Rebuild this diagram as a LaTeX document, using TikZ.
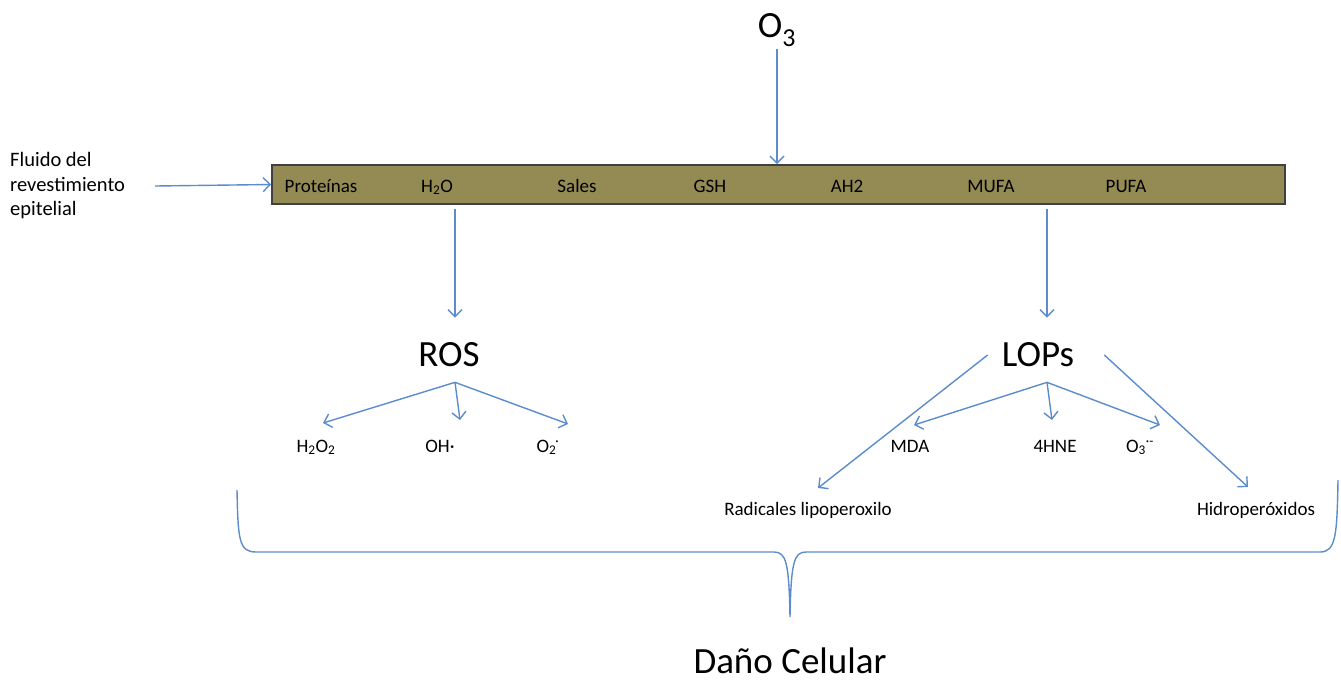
\documentclass[tikz,border=0pt]{standalone}
\usepackage{fontspec}
\setmainfont{Carlito}
\usetikzlibrary{arrows.meta}
\definecolor{arrowblue}{RGB}{91,140,205}
\definecolor{olivebar}{RGB}{148,138,84}
\begin{document}
\begin{tikzpicture}[x=1pt,y=-1pt,
  arr/.style={draw=arrowblue, line width=1.4pt, -{Straight Barb[length=7pt,width=14pt]}},
  lbl/.style={inner sep=0pt, font=\fontsize{19}{24}\selectfont},
  big/.style={inner sep=0pt, font=\fontsize{37}{44}\selectfont},
  barbox/.style={draw=black!75, line width=1.8pt, fill=olivebar, minimum width=1013pt, minimum height=39pt, inner sep=0pt},
  bracestyle/.style={draw=arrowblue, line width=1.4pt}]
\useasboundingbox (0,0) rectangle (1341,681);

% top
\node[big] (o3) at (777,30) {O\textsubscript{3}};
\node[barbox] (bar) at (778.5,184.5) {};
\node[lbl, anchor=base] (prot) at (321,192) {Proteínas};
\node[lbl, anchor=base] (h2o) at (437,192) {H\textsubscript{2}O};
\node[lbl, anchor=base] (sales) at (577,192) {Sales};
\node[lbl, anchor=base] (gsh) at (710,192) {GSH};
\node[lbl, anchor=base] (ah2) at (847,192) {AH2};
\node[lbl, anchor=base] (mufa) at (991,192) {MUFA};
\node[lbl, anchor=base] (pufa) at (1126,192) {PUFA};
\node[lbl, font=\fontsize{20.5}{24.5}\selectfont, align=left, anchor=west] (fluid) at (10,186) {Fluido del\\revestimiento\\epitelial};

\draw[arr] ([shift={(30,0)}]fluid.east) -- (bar.west);
\draw[arr] ([shift={(0,3)}]o3.south) -- (bar.north -| o3);

% middle
\node[big] (ros) at (449,355) {ROS};
\node[big] (lops) at (1038,355) {LOPs};
\draw[arr] ([shift={(6,4)}]bar.south -| ros) -- ([shift={(6,-25)}]ros.north);
\draw[arr] ([shift={(9,4)}]bar.south -| lops) -- ([shift={(9,-25)}]lops.north);

% ROS products
\node[lbl, anchor=base] (h2o2) at (316,452) {H\textsubscript{2}O\textsubscript{2}};
\node[lbl, anchor=base] (oh) at (440,452) {OH·};
\node[lbl, anchor=base] (o2) at (548,452) {O\textsubscript{2}\kern-1pt\textsuperscript{·}};
\coordinate (rosb) at ([shift={(6,15)}]ros.south);
\draw[arr] (rosb) -- ([shift={(7,-29)}]h2o2.base);
\draw[arr] (rosb) -- ([shift={(20,-32)}]oh.base);
\draw[arr] (rosb) -- ([shift={(20,-28)}]o2.base);

% LOPs products
\node[lbl, anchor=base] (mda) at (910,452) {MDA};
\node[lbl, anchor=base] (hne) at (1055,452) {4HNE};
\node[lbl, anchor=base] (o3r) at (1140,452) {O\textsubscript{3}\textsuperscript{·-}};
\coordinate (lopsb) at ([shift={(9,15)}]lops.south);
\draw[arr] (lopsb) -- ([shift={(4,-27)}]mda.base);
\draw[arr] (lopsb) -- ([shift={(-3,-32)}]hne.base);
\draw[arr] (lopsb) -- ([shift={(20,-27)}]o3r.base);

\node[lbl, anchor=base] (rad) at (808,515) {Radicales lipoperoxilo};
\node[lbl, anchor=base] (hidro) at (1256,515) {Hidroperóxidos};
\draw[arr] ([shift={(-14,0)}]lops.west) -- ([shift={(10,-27)}]rad.base);
\draw[arr] ([shift={(30,0)}]lops.east) -- ([shift={(-8,-28)}]hidro.base);

% brace
\node[big] (dano) at (790,661) {Daño Celular};
\draw[bracestyle] (237,490) .. controls (238,540) and (239,552) .. (256,552)
  -- (774,552) .. controls (786,552) and (789,562) .. (790,617)
  .. controls (791,562) and (794,552) .. (806,552)
  -- (1320,552) .. controls (1336,552) and (1337,535) .. (1338,480);
\end{tikzpicture}
\end{document}
